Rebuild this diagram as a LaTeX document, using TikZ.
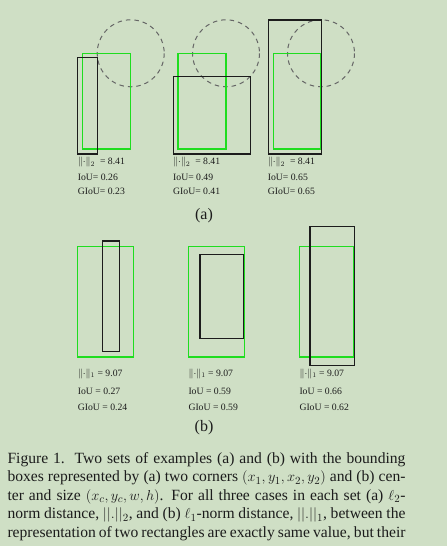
\documentclass[tikz,border=0pt]{standalone}
\usepackage{amsmath}
\usepackage{fontspec}
\setmainfont{Liberation Serif}
\usetikzlibrary{positioning,calc}

\definecolor{paper}{HTML}{CFDFC5}
\definecolor{gtgreen}{HTML}{1FDD1F}
\definecolor{ink}{HTML}{1C1C1C}

\newcommand{\capline}[1]{\hbox to 398pt{\strut #1}}

\begin{document}
\begin{tikzpicture}[x=1pt,y=-1pt,
  gtbox/.style={draw=gtgreen,line width=1.3pt},
  predbox/.style={draw=ink,line width=1.3pt},
  ring/.style={draw=gray!80!black,dash pattern=on 4.5pt off 4pt,line width=1pt},
  score/.style={anchor=base west,inner sep=0pt,font=\fontsize{9.7}{11}\selectfont,text=ink},
  tag/.style={anchor=base,inner sep=0pt,font=\fontsize{16}{18}\selectfont,text=ink}]
  \fill[paper] (0,0) rectangle (447,546);
  \useasboundingbox (0,0) rectangle (447,546);

  % set (a): corners
  \coordinate (c1) at (130.7,53.3);
  \coordinate (c2) at (226,53.3);
  \coordinate (c3) at (321,53.3);

  \draw[ring] (c1) circle (33.5);
  \draw[ring] (c2) circle (33.5);
  \draw[ring] (c3) circle (33.5);

  \draw[gtbox] (82.3,53.3) rectangle (c1 |- 0,149);
  \draw[predbox] (77.7,57.7) rectangle (97.3,154);
  \draw[gtbox] (178,53.3) rectangle (c2 |- 0,149);
  \draw[predbox] (173.3,76.7) rectangle (250.7,154);
  \draw[gtbox] (273.3,53.3) rectangle (c3 |- 0,149);
  \draw[predbox] (268.3,20) rectangle (321.3,154);

  \node[score] (a1n) at (77.7,164.5) {$\|{\cdot}\|_2$~~= 8.41};
  \node[score] (a1i) at (77.7,180) {IoU= 0.26};
  \node[score] (a1g) at (77.7,194) {GIoU= 0.23};
  \node[score] (a2n) at (173,164.5) {$\|{\cdot}\|_2$~~= 8.41};
  \node[score] (a2i) at (173,180) {IoU= 0.49};
  \node[score] (a2g) at (173,194) {GIoU= 0.41};
  \node[score] (a3n) at (267.7,164.5) {$\|{\cdot}\|_2$~~= 8.41};
  \node[score] (a3i) at (267.7,180) {IoU= 0.65};
  \node[score] (a3g) at (267.7,194) {GIoU= 0.65};

  \node[tag] (taga) at (204,219) {(a)};

  % set (b): center and size
  \draw[gtbox] (77.7,246.7) rectangle (133.3,357);
  \draw[predbox] (102.7,241) rectangle (119.3,351.7);
  \draw[gtbox] (188.3,246.7) rectangle (244.3,357);
  \draw[predbox] (200,254.3) rectangle (243.3,338.3);
  \draw[gtbox] (299.3,246.3) rectangle (354,357);
  \draw[predbox] (310,226.7) rectangle (354.7,365.7);

  \node[score] (b1n) at (77.7,376) {$\|{\cdot}\|_1$ = 9.07};
  \node[score] (b1i) at (77.7,394) {IoU = 0.27};
  \node[score] (b1g) at (77.7,410) {GIoU = 0.24};
  \node[score] (b2n) at (188.3,376) {$\|{\cdot}\|_1$ = 9.07};
  \node[score] (b2i) at (188.3,394) {IoU = 0.59};
  \node[score] (b2g) at (188.3,410) {GIoU = 0.59};
  \node[score] (b3n) at (299.3,376) {$\|{\cdot}\|_1$ = 9.07};
  \node[score] (b3i) at (299.3,394) {IoU = 0.66};
  \node[score] (b3g) at (299.3,410) {GIoU = 0.62};

  \node[tag] (tagb) at (204,431) {(b)};

  % caption
  \node[anchor=north west,inner sep=0pt,text width=398pt,
        font=\fontsize{15.6}{18.5}\selectfont,text=ink] (cap) at (7.3,450.3)
    {\spaceskip=0.25em plus 0.4em minus 0.13em
     \capline{Figure 1.~~Two sets of examples (a) and (b) with the bounding}
     \capline{boxes represented by (a) two corners $(x_1,y_1,x_2,y_2)$ and (b) cen-}
     \capline{ter and size $(x_c,y_c,w,h)$. For all three cases in each set (a) $\ell_2$-}
     \capline{norm distance, $||.||_2$, and (b) $\ell_1$-norm distance, $||.||_1$, between the}
     \capline{representation of two rectangles are exactly same value, but their}};
\end{tikzpicture}
\end{document}
